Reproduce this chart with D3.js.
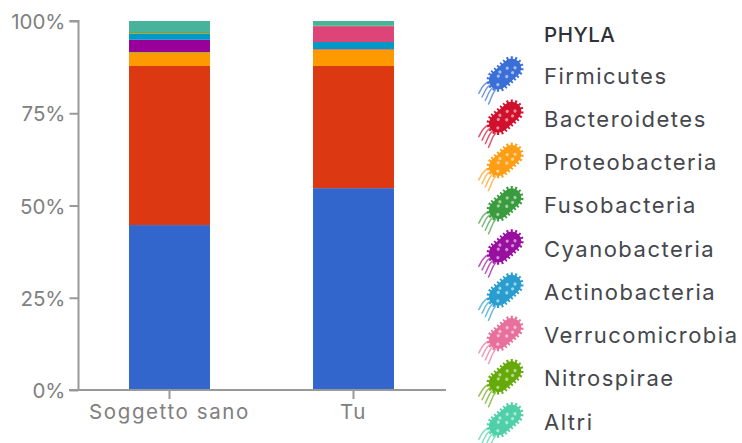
<!DOCTYPE html>
<html>
<head>
<meta charset="utf-8">
<script src="https://cdn.jsdelivr.net/npm/d3@7/dist/d3.min.js"></script>
<style>
  html, body { margin: 0; padding: 0; background: #fff; }
  svg { display: block; }
  text { font-family: "Inter", "Noto Sans", sans-serif; }
</style>
</head>
<body>
<svg id="chart" width="742" height="443"></svg>
<script>
// Gut microbiota composition, share of each phylum per subject
const subjects = ["Soggetto sano", "Tu"];
const phyla = ["Firmicutes", "Bacteroidetes", "Proteobacteria", "Fusobacteria", "Cyanobacteria", "Actinobacteria", "Verrucomicrobia", "Nitrospirae", "Altri"];
const healthyValues = [44.7, 43.1, 3.7, 0.1, 3.3, 1.7, 0.1, 0.3, 3.0];
const youValues = [54.7, 33.1, 4.5, 0.0, 0.1, 1.9, 4.3, 0.1, 1.3];
const barColors = ["#3366cc", "#dc3912", "#ff9900", "#109618", "#990099", "#0099c6", "#dd4477", "#66aa00", "#47b39b"];
const iconColors = ["#3b6fd8", "#d0102c", "#ff9d14", "#3a9c3e", "#990fa0", "#2a9dd0", "#e8709c", "#66aa0a", "#4fd0a8"];
const yTicks = [0, 25, 50, 75, 100];

const svg = d3.select("#chart");
const axisColor = "#999";
const labelColor = "#808080";

const x = d3.scaleBand().domain(subjects).range([77.5, 445.5]).paddingInner(0.56).paddingOuter(0.28);
const y = d3.scaleLinear().domain([0, 100]).range([390, 21]);

// Stacked bars
const rows = subjects.map((s, i) => {
  const row = { subject: s };
  const vals = i === 0 ? healthyValues : youValues;
  phyla.forEach((p, j) => { row[p] = vals[j]; });
  return row;
});
const stacked = d3.stack().keys(phyla)(rows);
svg.append("g").selectAll("g").data(stacked).join("g")
  .attr("fill", (d, i) => barColors[i])
  .selectAll("rect").data(d => d).join("rect")
  .attr("x", d => x(d.data.subject))
  .attr("width", x.bandwidth())
  .attr("y", d => y(d[1]))
  .attr("height", d => y(d[0]) - y(d[1]));

// Axes
const yAxis = d3.axisLeft(y).tickValues(yTicks).tickFormat(d => d + "%").tickSize(9).tickPadding(4);
const xAxis = d3.axisBottom(x).tickSize(9).tickPadding(3);

const gy = svg.append("g").attr("transform", "translate(78.5,0)").call(yAxis);
const gx = svg.append("g").attr("transform", "translate(0,390)").call(xAxis);
[gy, gx].forEach(g => {
  g.selectAll(".domain,line").attr("stroke", axisColor).attr("stroke-width", 2);
  g.selectAll("text").attr("fill", labelColor).style("font-family", "Inter, sans-serif").style("font-size", "20.5px");
});
gy.select(".domain").attr("d", "M-9,21H0V390H-9");
gx.select(".domain").attr("d", "M69,0H446");
gx.selectAll("line").attr("y2", 9);
gx.selectAll("text").attr("dy", "0.85em").style("letter-spacing", "1.6px");
gy.selectAll("text").attr("dy", "0.37em");

// Legend: a small bacterium glyph beside each phylum name
const legendX = 544;
const legendY = d3.scaleLinear().domain([0, phyla.length - 1]).range([76, 422]);

svg.append("text").attr("x", legendX).attr("y", 35).attr("dy", "0.35em")
  .attr("fill", "#2f3136").style("font-size", "20.5px").style("font-weight", 500).style("letter-spacing", "0.5px").text("PHYLA");

const legend = svg.append("g").selectAll("g").data(phyla).join("g")
  .attr("transform", (d, i) => `translate(0,${legendY(i)})`);

legend.append("text").attr("x", legendX).attr("dy", "0.35em")
  .attr("fill", "#45474d").style("font-size", "22px").style("letter-spacing", "1.5px").text(d => d);

const icon = legend.append("g").attr("transform", "translate(504,-1) rotate(-42)");
const tint = (d, i) => iconColors[i];

// Body with a short fringe of cilia around its edge
icon.append("rect").attr("x", -17).attr("y", -9.5).attr("width", 37).attr("height", 19).attr("rx", 9.5).attr("fill", tint);
icon.append("rect").attr("x", -17).attr("y", -9.5).attr("width", 37).attr("height", 19).attr("rx", 9.5)
  .attr("fill", "none").attr("stroke", tint).attr("stroke-width", 4.5).attr("stroke-dasharray", "1.8 2.2");

// Flagella trailing from the tail end
const tails = [-6, -2, 2, 6];
icon.selectAll("path.tail").data((d, i) => tails.map(t => ({ t, i }))).join("path")
  .attr("class", "tail")
  .attr("d", d => `M-16,${d.t * 0.9} C-22,${d.t * 1.1 - 1} -25,${d.t * 1.2 + 2} -31,${d.t * 1.2 + 4}`)
  .attr("fill", "none").attr("stroke", d => iconColors[d.i]).attr("stroke-width", 1.5).attr("stroke-opacity", 0.7).attr("stroke-linecap", "round");

// Pale spots on the body
const spots = [[-11, 3], [-5, -3], [1, 3], [7, -3], [13, 2], [-1, -5], [8, 4]];
icon.selectAll("circle").data(spots).join("circle")
  .attr("cx", d => d[0]).attr("cy", d => d[1]).attr("r", 1.6)
  .attr("fill", "#fff").attr("fill-opacity", 0.55);
</script>
</body>
</html>
